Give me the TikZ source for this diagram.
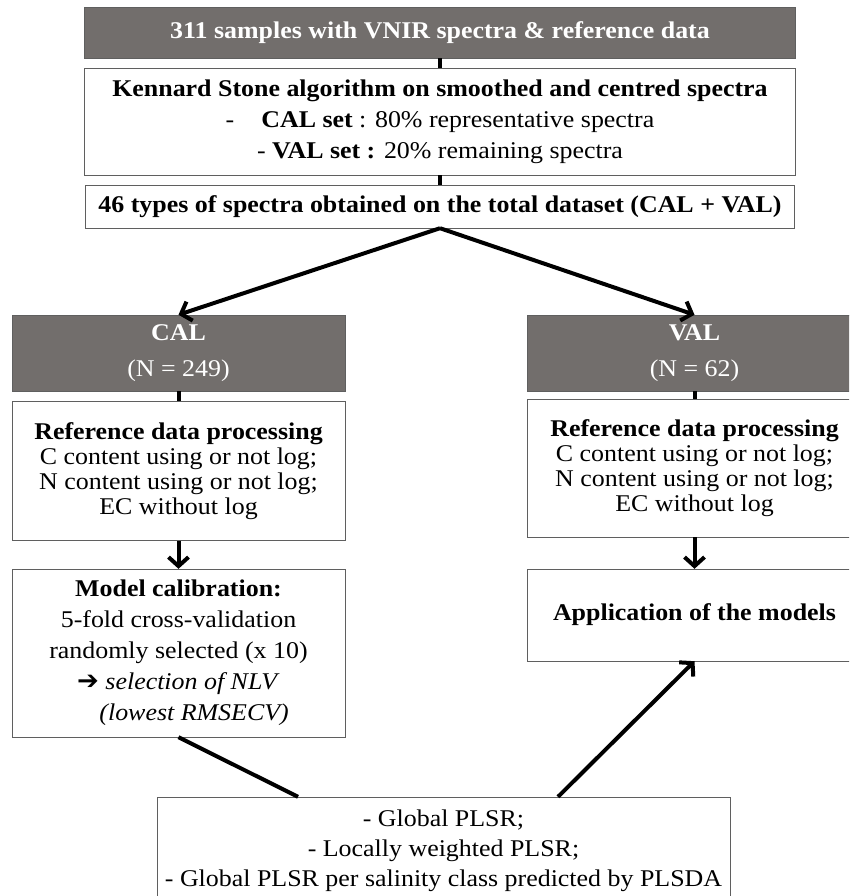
\documentclass[tikz,border=0pt]{standalone}
\usepackage{fontspec}
\setmainfont{Liberation Serif}[FakeStretch=1.08]
\newfontfamily\symfont{DejaVu Sans}
\usetikzlibrary{arrows.meta,calc}
\definecolor{boxgray}{RGB}{114,110,108}
\definecolor{edgegray}{RGB}{95,95,95}

\begin{document}
\begin{tikzpicture}[x=1pt,y=-1pt,
  darkbox/.style={draw=edgegray,fill=boxgray,text=white,align=center,inner sep=0pt},
  whitebox/.style={draw=edgegray,fill=white,text=black,align=center,inner sep=0pt},
  link/.style={line width=4pt},
  arr/.style={line width=4pt,-{Straight Barb[length=9pt,width=20pt]}}]
\useasboundingbox (0,0) rectangle (849,896);
\clip (0,0) rectangle (849,896);

% top part
\node[darkbox,minimum width=711,minimum height=51,font=\fontsize{24}{27}\selectfont] (samples) at (440,32.5)
  {\textbf{311 samples with VNIR spectra \& reference data}};
\node[whitebox,minimum width=711,minimum height=107,font=\fontsize{24}{31}\selectfont] (kennard) at (440,121.5)
  {\textbf{Kennard Stone algorithm on smoothed and centred spectra}\\
   -\hspace{27pt}\textbf{CAL set} : 80\% representative spectra\\
   - \textbf{VAL set :} 20\% remaining spectra};
\node[whitebox,minimum width=709,minimum height=43,font=\fontsize{24}{27}\selectfont] (types) at (440,206.5)
  {\textbf{46 types of spectra obtained on the total dataset (CAL + VAL)}};

% CAL branch
\node[darkbox,minimum width=333,minimum height=76,font=\fontsize{24}{36}\selectfont] (cal) at (178.5,353)
  {\textbf{CAL}\\(N = 249)};
\node[whitebox,minimum width=333,minimum height=139,font=\fontsize{24}{25}\selectfont] (refcal) at (178.5,471)
  {\textbf{Reference data processing}\\C content using or not log;\\N content using or not log;\\EC without log};
\node[whitebox,minimum width=333,minimum height=168,font=\fontsize{24}{31}\selectfont] (calib) at (178.5,653)
  {\textbf{Model calibration:}\\5-fold cross-validation\\randomly selected (x 10)\\
   {\symfont\fontsize{26}{31}\selectfont ➔} \textit{selection of NLV}\\\hspace*{1.3em}\textit{(lowest RMSECV)}};

% VAL branch
\node[darkbox,minimum width=335,minimum height=76,font=\fontsize{24}{36}\selectfont] (val) at (694.5,353)
  {\textbf{VAL}\\(N = 62)};
\node[whitebox,minimum width=335,minimum height=138,font=\fontsize{24}{25}\selectfont] (refval) at (694.5,468)
  {\textbf{Reference data processing}\\C content using or not log;\\N content using or not log;\\EC without log};
\node[whitebox,minimum width=335,minimum height=92,font=\fontsize{24}{27}\selectfont] (appl) at (694.5,615)
  {\textbf{Application of the models}};

% methods
\node[whitebox,minimum width=573,minimum height=108,font=\fontsize{24}{30}\selectfont] (methods) at (443.5,851)
  {- Global PLSR;\\- Locally weighted PLSR;\\- Global PLSR per salinity class predicted by PLSDA};

% connectors
\draw[link] (samples.south) -- (kennard.north);
\draw[link] (kennard.south) -- (types.north);
\draw[arr] (types.south) -- (cal.north);
\draw[arr] (types.south) -- (val.north);
\draw[link] (cal.south) -- (refcal.north);
\draw[link] (val.south) -- (refval.north);
\draw[arr] (refcal.south) -- (calib.north);
\draw[arr] (refval.south) -- (appl.north);
\draw[link] (calib.south) -- ([xshift=-145.5pt]methods.north);
\draw[arr] ([xshift=114.5pt]methods.north) -- (appl.south);

\end{tikzpicture}
\end{document}
